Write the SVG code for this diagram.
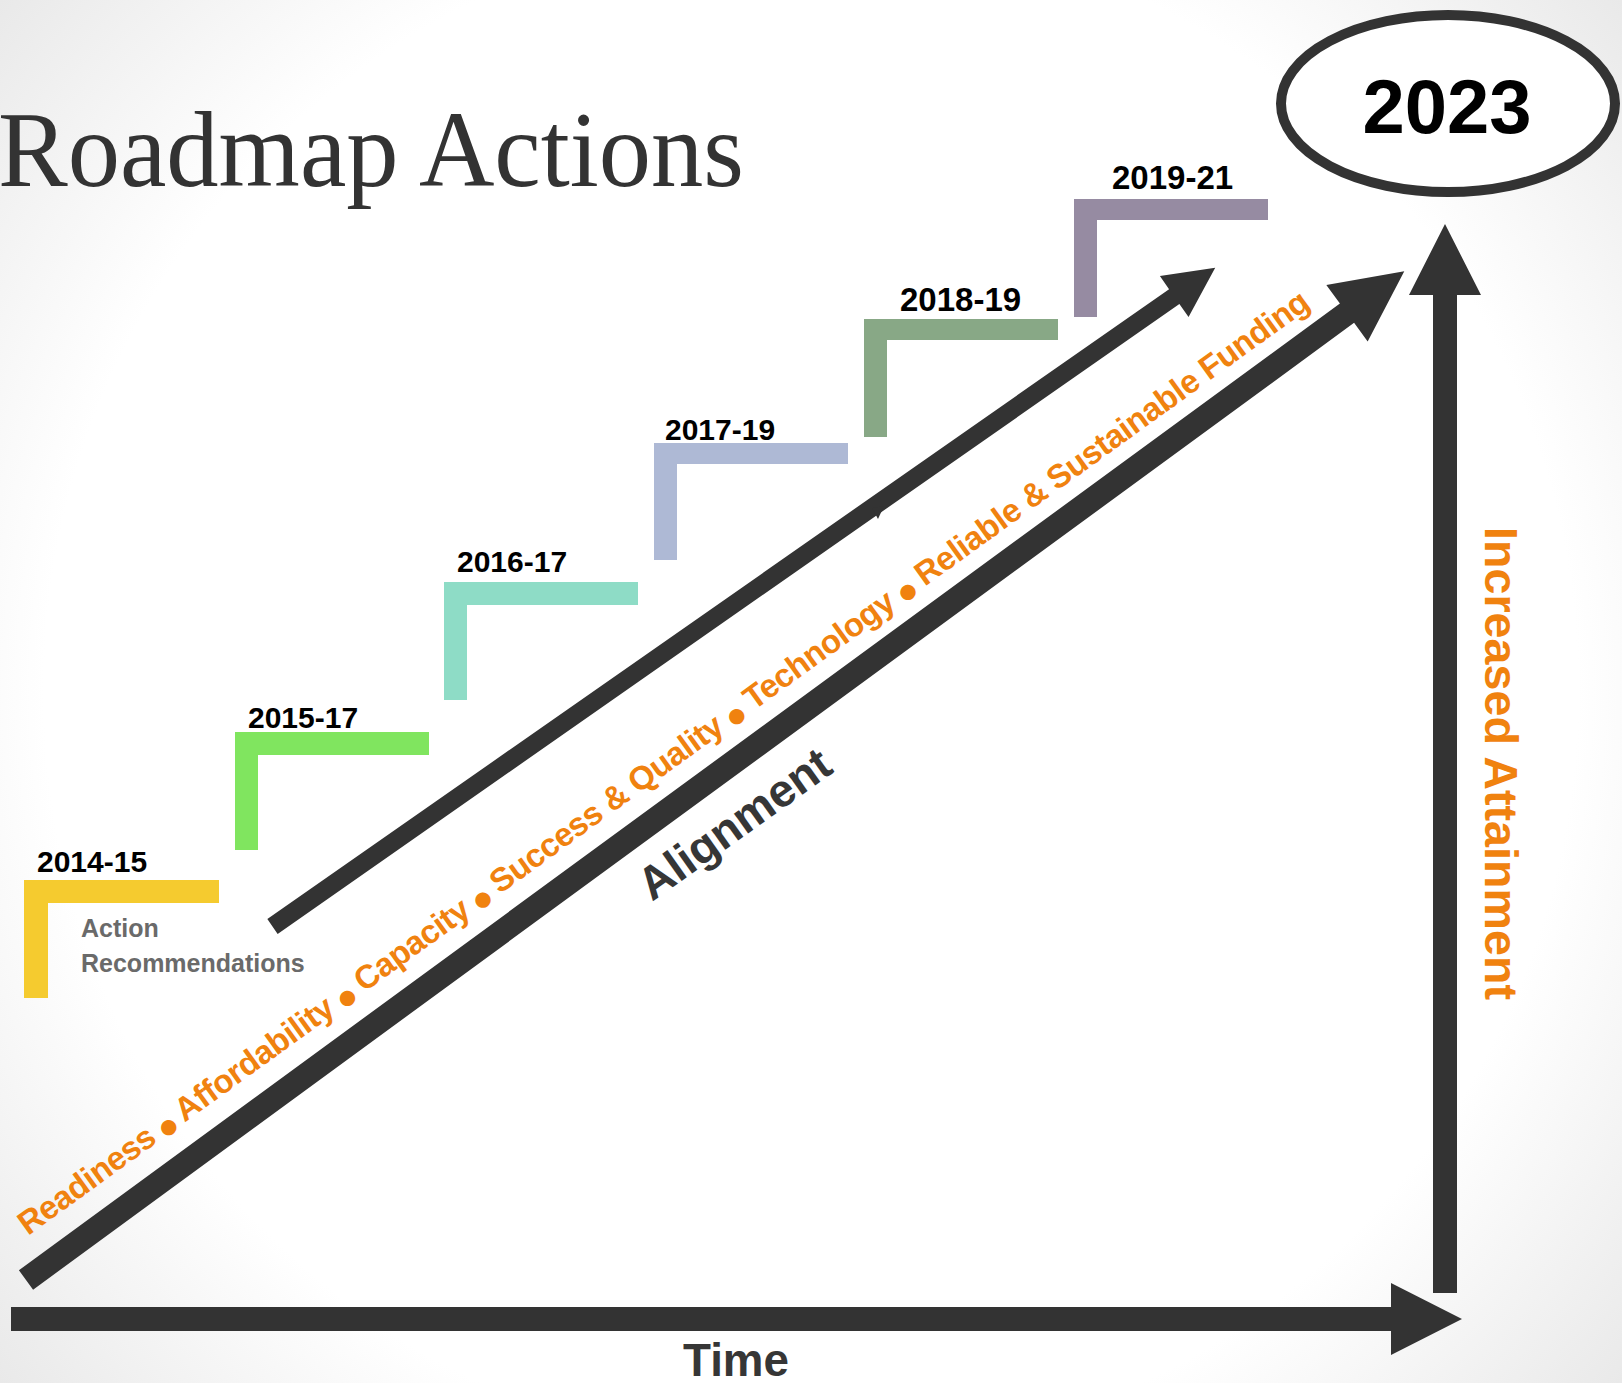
<svg xmlns="http://www.w3.org/2000/svg" width="1622" height="1383" viewBox="0 0 1622 1383">
<style>
.year{font-family:"Liberation Sans",Arial,sans-serif;font-weight:700;font-size:30px;fill:#000}
.arrow{fill:#333333}
.orange{font-family:"Liberation Sans",Arial,sans-serif;font-weight:700;fill:#F0820F}
.dark{font-family:"Liberation Sans",Arial,sans-serif;font-weight:700;fill:#363636}
.dot{font-family:"DejaVu Sans",sans-serif;font-size:20px}
</style>
<defs>
<radialGradient id="bg" gradientUnits="userSpaceOnUse" cx="811" cy="691" r="1065">
<stop offset="0" stop-color="#ffffff"/>
<stop offset="0.72" stop-color="#ffffff"/>
<stop offset="1" stop-color="#e9e9e9"/>
</radialGradient>
</defs>
<rect x="0" y="0" width="1622" height="1383" fill="url(#bg)"/>

<text x="-2" y="186" font-family="Liberation Serif,Times New Roman,serif" font-size="109" fill="#333333" textLength="746" lengthAdjust="spacingAndGlyphs">Roadmap Actions</text>

<g id="connectors">
<g transform="translate(26,1280) rotate(-36.2)"><polygon class="arrow" points="0,-12 1637,-12 1637,-35 1708,0 1637,35 1637,12 0,12"/></g>
<g transform="translate(272.5,926.5) rotate(-34.94)"><polygon class="arrow" points="0,-9 1100,-9 1100,-25 1150,0 1100,25 1100,9 0,9"/></g>
<polygon class="arrow" points="872,508 884,506 878,519"/>
<g transform="translate(11,1319)"><polygon class="arrow" points="0,-12 1380,-12 1380,-36 1451,0 1380,36 1380,12 0,12"/></g>
<g transform="translate(1445,1293) rotate(-90)"><polygon class="arrow" points="0,-12 998,-12 998,-36 1069,0 998,36 998,12 0,12"/></g>
</g>

<text class="orange" font-size="33" transform="translate(28,1236) rotate(-35.9)" textLength="1585" lengthAdjust="spacing">Readiness <tspan class="dot">●</tspan> Affordability <tspan class="dot">●</tspan> Capacity <tspan class="dot">●</tspan> Success &amp; Quality <tspan class="dot">●</tspan> Technology <tspan class="dot">●</tspan> Reliable &amp; Sustainable Funding</text>
<text class="dark" font-size="46" transform="translate(652,902) rotate(-35.5)">Alignment</text>
<text class="orange" font-size="46" transform="translate(1485,527) rotate(90)" textLength="473" lengthAdjust="spacingAndGlyphs">Increased Attainment</text>
<text class="dark" font-size="47" x="683" y="1376" textLength="106" lengthAdjust="spacingAndGlyphs">Time</text>

<g id="node-2014-15">
<path d="M24,880 H219 V903 H48 V998 H24 Z" fill="#F5CB2F"/>
<text class="year" x="37" y="872">2014-15</text>
<text x="81" y="937" font-family="Liberation Sans,Arial,sans-serif" font-weight="700" font-size="25" fill="#6a6a6a">Action</text>
<text x="81" y="972" font-family="Liberation Sans,Arial,sans-serif" font-weight="700" font-size="25" fill="#6a6a6a">Recommendations</text>
</g>
<g id="node-2015-17">
<path d="M235,732 H429 V755 H258 V850 H235 Z" fill="#80E55F"/>
<text class="year" x="248" y="728">2015-17</text>
</g>
<g id="node-2016-17">
<path d="M444,582 H638 V605 H467 V700 H444 Z" fill="#8EDCC6"/>
<text class="year" x="457" y="572">2016-17</text>
</g>
<g id="node-2017-19">
<path d="M654,443 H848 V464 H677 V560 H654 Z" fill="#AEB9D5"/>
<text class="year" x="665" y="440">2017-19</text>
</g>
<g id="node-2018-19">
<path d="M864,319 H1058 V340 H887 V437 H864 Z" fill="#88A886"/>
<text class="year" x="900" y="311" style="font-size:33px">2018-19</text>
</g>
<g id="node-2019-21">
<path d="M1074,199 H1268 V220 H1097 V317 H1074 Z" fill="#968BA2"/>
<text class="year" x="1112" y="189" style="font-size:33px">2019-21</text>
</g>
<g id="node-2023">
<ellipse cx="1448" cy="103.5" rx="167" ry="88.5" fill="#ffffff" stroke="#333333" stroke-width="10"/>
<text x="1447" y="133" text-anchor="middle" font-family="Liberation Sans,Arial,sans-serif" font-weight="700" font-size="76" fill="#000">2023</text>
</g>
</svg>
